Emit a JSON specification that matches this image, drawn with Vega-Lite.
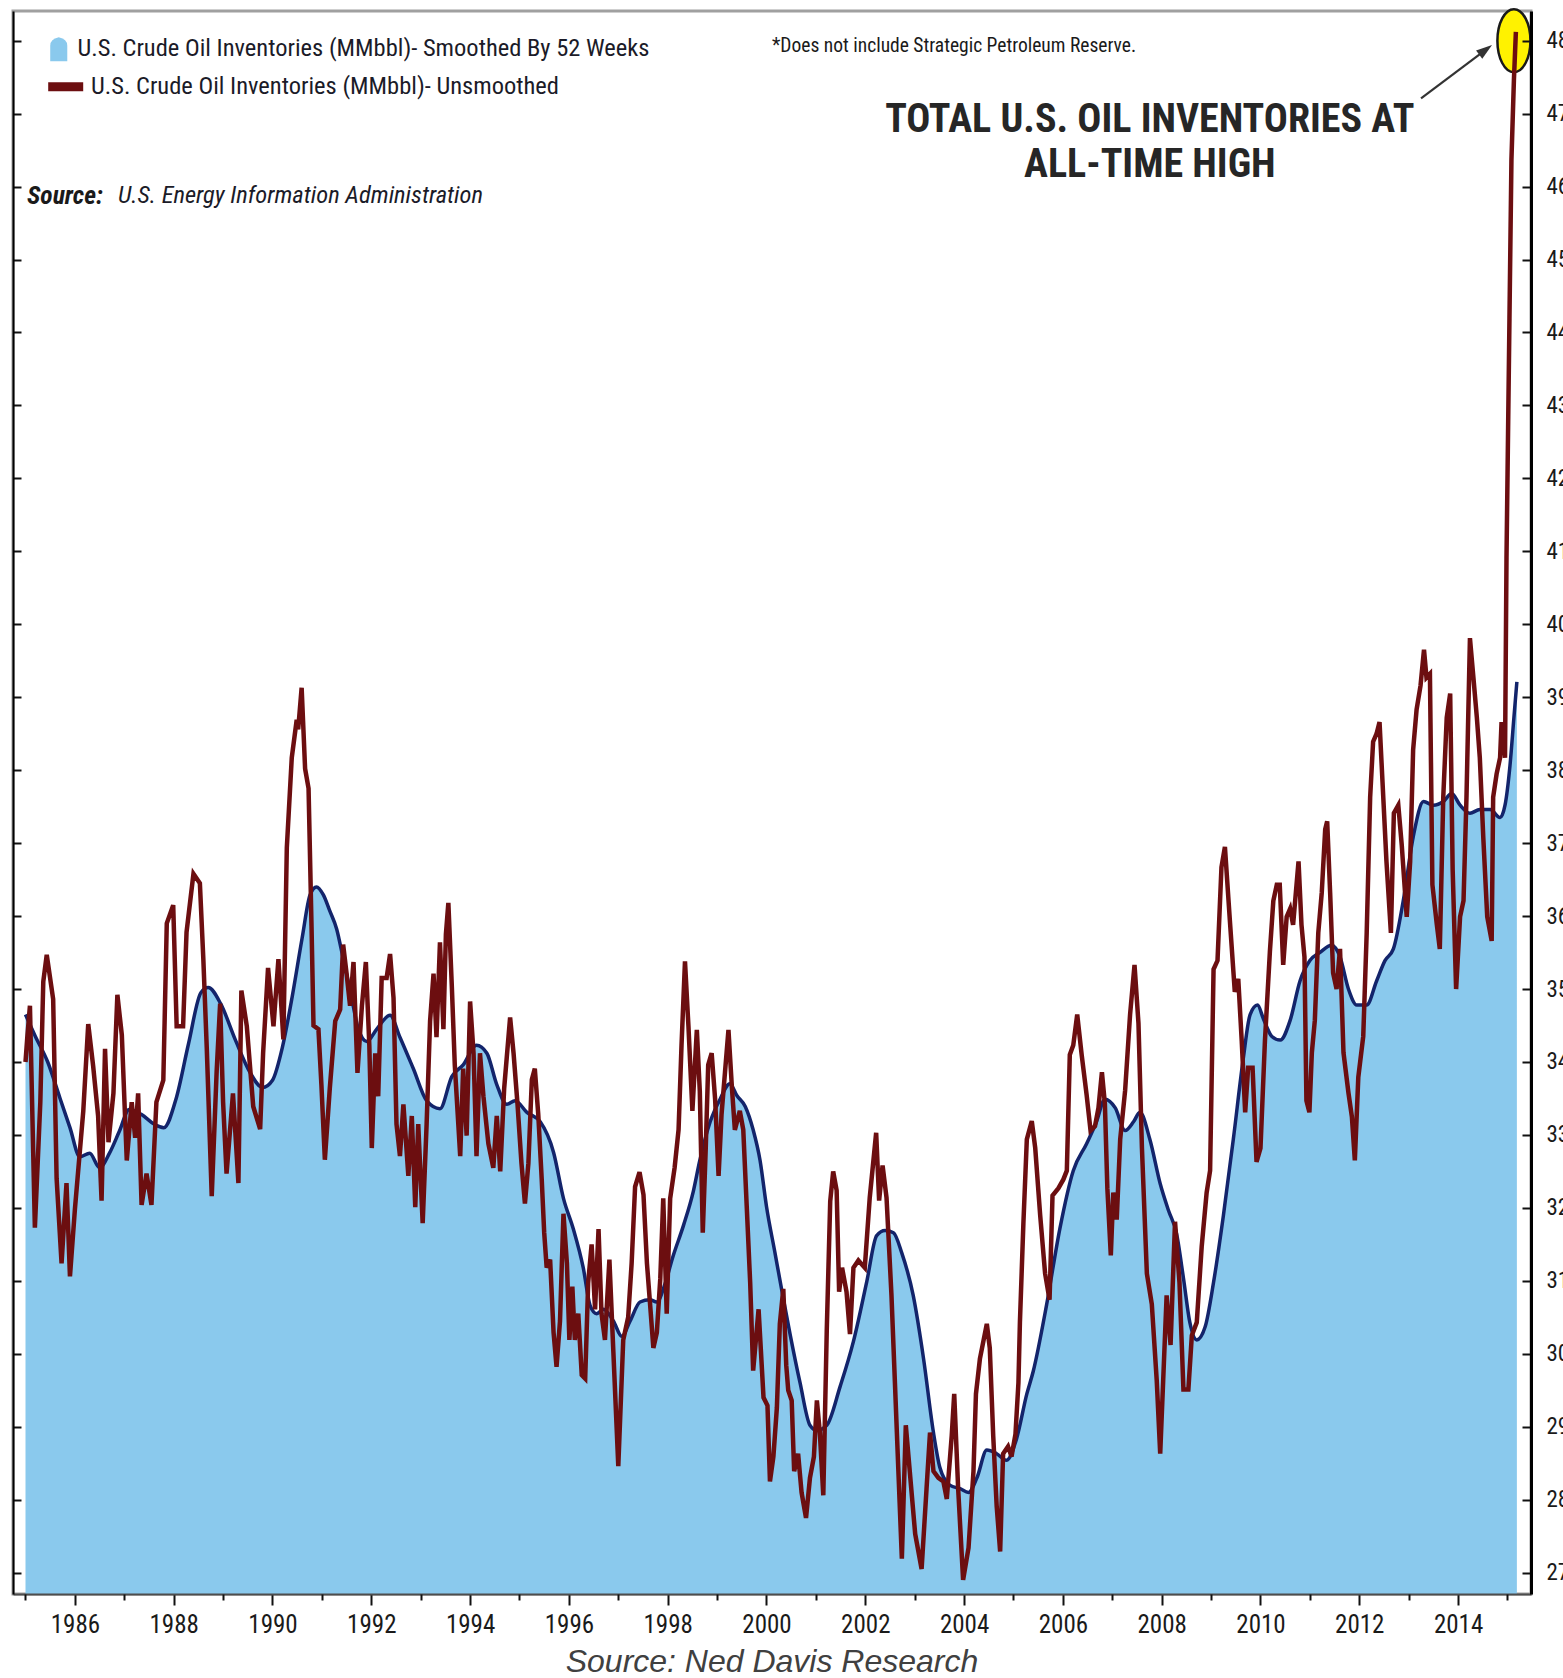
{
  "$schema": "https://vega.github.io/schema/vega-lite/v6.json",
  "width": 1518,
  "height": 1583,
  "autosize": {"type": "none"},
  "padding": {"left": 13, "top": 11, "right": 32, "bottom": 84},
  "background": "white",
  "config": {"view": {"stroke": "#a0a0a0", "strokeWidth": 3}},
  "title": {"text": "Source: Ned Davis Research", "orient": "bottom", "anchor": "middle", "font": "Liberation Sans, Arial, sans-serif", "fontStyle": "italic", "fontWeight": "normal", "fontSize": 32, "color": "#404040", "offset": 10},
  "datasets": {
    "smoothed": [
      {"t":1985.00,"v":346.5},{"t":1985.20,"v":343.5},{"t":1985.45,"v":340.0},{"t":1985.70,"v":335.0},{"t":1985.90,"v":331.0},{"t":1986.10,"v":327.0},{"t":1986.30,"v":327.5},{"t":1986.50,"v":325.5},{"t":1986.70,"v":327.5},{"t":1986.90,"v":330.5},{"t":1987.10,"v":333.5},{"t":1987.35,"v":332.8},{"t":1987.60,"v":331.5},{"t":1987.80,"v":331.0},{"t":1988.05,"v":335.0},{"t":1988.30,"v":342.5},{"t":1988.55,"v":349.5},{"t":1988.70,"v":350.2},{"t":1988.95,"v":348.0},{"t":1989.25,"v":343.0},{"t":1989.55,"v":338.5},{"t":1989.80,"v":336.5},{"t":1990.00,"v":337.5},{"t":1990.20,"v":342.0},{"t":1990.40,"v":349.0},{"t":1990.60,"v":357.0},{"t":1990.76,"v":362.9},{"t":1990.89,"v":364.0},{"t":1991.03,"v":362.9},{"t":1991.16,"v":360.7},{"t":1991.30,"v":358.2},{"t":1991.43,"v":354.2},{"t":1991.57,"v":349.9},{"t":1991.74,"v":344.5},{"t":1991.91,"v":342.8},{"t":1992.11,"v":344.5},{"t":1992.38,"v":346.4},{"t":1992.58,"v":343.4},{"t":1992.85,"v":339.1},{"t":1993.12,"v":334.7},{"t":1993.39,"v":333.6},{"t":1993.63,"v":338.0},{"t":1993.86,"v":339.6},{"t":1994.13,"v":342.3},{"t":1994.34,"v":341.2},{"t":1994.54,"v":336.9},{"t":1994.74,"v":334.2},{"t":1994.91,"v":334.7},{"t":1995.15,"v":333.1},{"t":1995.42,"v":331.8},{"t":1995.69,"v":327.6},{"t":1995.89,"v":321.3},{"t":1996.09,"v":317.1},{"t":1996.29,"v":311.8},{"t":1996.43,"v":306.6},{"t":1996.56,"v":305.5},{"t":1996.70,"v":306.1},{"t":1996.90,"v":304.5},{"t":1997.07,"v":302.4},{"t":1997.24,"v":304.5},{"t":1997.44,"v":307.1},{"t":1997.64,"v":307.4},{"t":1997.78,"v":307.1},{"t":1997.95,"v":309.7},{"t":1998.11,"v":313.4},{"t":1998.32,"v":317.6},{"t":1998.52,"v":322.3},{"t":1998.65,"v":326.5},{"t":1998.86,"v":331.8},{"t":1999.06,"v":334.9},{"t":1999.26,"v":337.0},{"t":1999.40,"v":335.4},{"t":1999.57,"v":333.9},{"t":1999.73,"v":330.7},{"t":1999.87,"v":326.5},{"t":2000.00,"v":320.2},{"t":2000.17,"v":313.9},{"t":2000.31,"v":308.7},{"t":2000.48,"v":302.6},{"t":2000.68,"v":296.0},{"t":2000.88,"v":290.2},{"t":2001.02,"v":289.5},{"t":2001.22,"v":290.2},{"t":2001.49,"v":295.5},{"t":2001.76,"v":301.7},{"t":2002.03,"v":309.9},{"t":2002.23,"v":316.2},{"t":2002.40,"v":316.9},{"t":2002.57,"v":316.6},{"t":2002.74,"v":313.8},{"t":2002.97,"v":308.0},{"t":2003.18,"v":299.3},{"t":2003.38,"v":289.2},{"t":2003.51,"v":284.4},{"t":2003.71,"v":282.0},{"t":2003.92,"v":281.5},{"t":2004.09,"v":281.0},{"t":2004.26,"v":283.0},{"t":2004.46,"v":286.8},{"t":2004.66,"v":286.3},{"t":2004.86,"v":285.4},{"t":2005.06,"v":288.3},{"t":2005.27,"v":294.5},{"t":2005.40,"v":297.6},{"t":2005.67,"v":306.7},{"t":2005.94,"v":317.2},{"t":2006.21,"v":325.1},{"t":2006.48,"v":328.8},{"t":2006.68,"v":331.8},{"t":2006.85,"v":334.9},{"t":2007.06,"v":333.7},{"t":2007.26,"v":330.6},{"t":2007.43,"v":331.8},{"t":2007.56,"v":333.1},{"t":2007.76,"v":329.4},{"t":2007.97,"v":323.3},{"t":2008.14,"v":319.6},{"t":2008.30,"v":316.5},{"t":2008.44,"v":310.4},{"t":2008.57,"v":304.3},{"t":2008.71,"v":301.9},{"t":2008.88,"v":303.7},{"t":2009.05,"v":309.8},{"t":2009.25,"v":319.0},{"t":2009.45,"v":329.4},{"t":2009.65,"v":340.4},{"t":2009.79,"v":346.5},{"t":2009.94,"v":347.8},{"t":2010.06,"v":345.9},{"t":2010.23,"v":343.5},{"t":2010.40,"v":343.0},{"t":2010.60,"v":345.7},{"t":2010.80,"v":351.1},{"t":2011.00,"v":353.9},{"t":2011.20,"v":355.0},{"t":2011.44,"v":356.0},{"t":2011.61,"v":354.4},{"t":2011.78,"v":350.0},{"t":2011.95,"v":347.8},{"t":2012.15,"v":347.8},{"t":2012.35,"v":351.1},{"t":2012.52,"v":353.9},{"t":2012.69,"v":355.5},{"t":2012.89,"v":362.1},{"t":2013.09,"v":370.8},{"t":2013.30,"v":375.7},{"t":2013.50,"v":375.2},{"t":2013.70,"v":375.7},{"t":2013.87,"v":376.8},{"t":2014.04,"v":375.2},{"t":2014.24,"v":374.1},{"t":2014.44,"v":374.6},{"t":2014.65,"v":374.6},{"t":2014.85,"v":373.5},{"t":2014.95,"v":375.2},{"t":2015.05,"v":380.6},{"t":2015.13,"v":387.2},{"t":2015.19,"v":392.1}
    ],
    "raw": [
      {"t":1985.00,"v":340.0},{"t":1985.04,"v":343.7},{"t":1985.09,"v":347.7},{"t":1985.19,"v":317.3},{"t":1985.30,"v":334.5},{"t":1985.36,"v":351.0},{"t":1985.43,"v":354.7},{"t":1985.56,"v":348.6},{"t":1985.63,"v":324.0},{"t":1985.73,"v":312.4},{"t":1985.83,"v":323.4},{"t":1985.90,"v":310.6},{"t":1986.00,"v":319.8},{"t":1986.17,"v":333.3},{"t":1986.27,"v":345.2},{"t":1986.37,"v":339.4},{"t":1986.47,"v":332.6},{"t":1986.54,"v":321.0},{"t":1986.61,"v":341.8},{"t":1986.68,"v":329.0},{"t":1986.78,"v":335.7},{"t":1986.86,"v":349.2},{"t":1986.95,"v":343.7},{"t":1987.05,"v":326.5},{"t":1987.15,"v":334.5},{"t":1987.22,"v":329.6},{"t":1987.28,"v":335.7},{"t":1987.35,"v":320.4},{"t":1987.45,"v":324.7},{"t":1987.55,"v":320.4},{"t":1987.65,"v":334.5},{"t":1987.79,"v":337.5},{"t":1987.86,"v":359.0},{"t":1987.99,"v":361.5},{"t":1988.06,"v":344.9},{"t":1988.19,"v":344.9},{"t":1988.26,"v":357.8},{"t":1988.40,"v":365.8},{"t":1988.53,"v":364.5},{"t":1988.60,"v":354.1},{"t":1988.67,"v":341.8},{"t":1988.77,"v":321.6},{"t":1988.87,"v":338.8},{"t":1988.94,"v":348.0},{"t":1989.00,"v":334.5},{"t":1989.07,"v":324.7},{"t":1989.20,"v":335.7},{"t":1989.31,"v":323.4},{"t":1989.37,"v":349.8},{"t":1989.48,"v":344.9},{"t":1989.61,"v":333.9},{"t":1989.75,"v":330.8},{"t":1989.81,"v":341.2},{"t":1989.91,"v":352.9},{"t":1990.02,"v":344.9},{"t":1990.12,"v":354.1},{"t":1990.22,"v":343.1},{"t":1990.29,"v":369.4},{"t":1990.39,"v":381.7},{"t":1990.49,"v":386.9},{"t":1990.52,"v":385.6},{"t":1990.59,"v":391.3},{"t":1990.66,"v":380.2},{"t":1990.73,"v":377.5},{"t":1990.79,"v":358.6},{"t":1990.83,"v":345.0},{"t":1990.93,"v":344.5},{"t":1990.99,"v":336.9},{"t":1991.06,"v":326.6},{"t":1991.16,"v":336.4},{"t":1991.27,"v":345.6},{"t":1991.37,"v":347.2},{"t":1991.43,"v":356.1},{"t":1991.50,"v":352.1},{"t":1991.57,"v":347.7},{"t":1991.64,"v":353.7},{"t":1991.72,"v":338.5},{"t":1991.81,"v":347.7},{"t":1991.89,"v":353.7},{"t":1991.96,"v":342.3},{"t":1992.01,"v":328.2},{"t":1992.08,"v":341.2},{"t":1992.14,"v":335.3},{"t":1992.21,"v":351.5},{"t":1992.31,"v":351.5},{"t":1992.38,"v":354.8},{"t":1992.45,"v":348.8},{"t":1992.51,"v":331.5},{"t":1992.58,"v":327.1},{"t":1992.65,"v":334.2},{"t":1992.75,"v":324.4},{"t":1992.82,"v":332.6},{"t":1992.89,"v":320.1},{"t":1992.95,"v":331.5},{"t":1993.04,"v":317.9},{"t":1993.12,"v":331.5},{"t":1993.19,"v":345.6},{"t":1993.26,"v":352.1},{"t":1993.32,"v":343.4},{"t":1993.39,"v":356.4},{"t":1993.46,"v":344.5},{"t":1993.51,"v":357.5},{"t":1993.56,"v":361.8},{"t":1993.63,"v":350.4},{"t":1993.69,"v":339.6},{"t":1993.80,"v":327.1},{"t":1993.86,"v":339.1},{"t":1993.93,"v":329.9},{"t":1994.00,"v":348.3},{"t":1994.07,"v":341.2},{"t":1994.13,"v":327.1},{"t":1994.20,"v":341.2},{"t":1994.27,"v":335.3},{"t":1994.37,"v":328.8},{"t":1994.47,"v":325.5},{"t":1994.54,"v":332.6},{"t":1994.61,"v":325.0},{"t":1994.69,"v":336.4},{"t":1994.81,"v":346.1},{"t":1994.88,"v":341.2},{"t":1994.96,"v":334.2},{"t":1995.04,"v":326.1},{"t":1995.11,"v":320.6},{"t":1995.18,"v":326.1},{"t":1995.25,"v":337.6},{"t":1995.31,"v":339.1},{"t":1995.38,"v":332.8},{"t":1995.45,"v":323.9},{"t":1995.50,"v":316.6},{"t":1995.55,"v":311.8},{"t":1995.62,"v":312.9},{"t":1995.69,"v":302.9},{"t":1995.75,"v":298.2},{"t":1995.82,"v":304.5},{"t":1995.89,"v":319.2},{"t":1995.96,"v":312.4},{"t":1996.01,"v":301.9},{"t":1996.07,"v":309.2},{"t":1996.12,"v":301.9},{"t":1996.19,"v":305.5},{"t":1996.26,"v":297.1},{"t":1996.33,"v":296.6},{"t":1996.39,"v":309.7},{"t":1996.46,"v":315.0},{"t":1996.53,"v":306.1},{"t":1996.60,"v":317.1},{"t":1996.66,"v":305.5},{"t":1996.73,"v":301.9},{"t":1996.82,"v":312.9},{"t":1996.90,"v":300.3},{"t":1997.00,"v":284.6},{"t":1997.10,"v":301.9},{"t":1997.20,"v":305.0},{"t":1997.27,"v":312.4},{"t":1997.34,"v":322.9},{"t":1997.43,"v":324.9},{"t":1997.51,"v":321.8},{"t":1997.58,"v":312.4},{"t":1997.64,"v":307.1},{"t":1997.71,"v":300.8},{"t":1997.78,"v":302.9},{"t":1997.85,"v":310.3},{"t":1997.91,"v":321.3},{"t":1997.98,"v":305.5},{"t":1998.05,"v":321.3},{"t":1998.14,"v":325.5},{"t":1998.22,"v":330.7},{"t":1998.28,"v":342.3},{"t":1998.35,"v":353.8},{"t":1998.42,"v":344.9},{"t":1998.50,"v":333.3},{"t":1998.59,"v":344.4},{"t":1998.65,"v":336.0},{"t":1998.71,"v":316.6},{"t":1998.77,"v":328.1},{"t":1998.82,"v":339.6},{"t":1998.89,"v":341.2},{"t":1998.96,"v":334.9},{"t":1999.03,"v":324.4},{"t":1999.09,"v":332.8},{"t":1999.16,"v":338.6},{"t":1999.23,"v":344.4},{"t":1999.30,"v":336.5},{"t":1999.36,"v":330.7},{"t":1999.46,"v":333.3},{"t":1999.53,"v":330.7},{"t":1999.60,"v":320.2},{"t":1999.67,"v":309.7},{"t":1999.73,"v":297.7},{"t":1999.84,"v":306.1},{"t":1999.94,"v":294.0},{"t":2000.02,"v":292.9},{"t":2000.07,"v":282.5},{"t":2000.14,"v":285.9},{"t":2000.21,"v":292.6},{"t":2000.27,"v":304.1},{"t":2000.34,"v":308.9},{"t":2000.40,"v":298.4},{"t":2000.44,"v":295.0},{"t":2000.51,"v":293.6},{"t":2000.56,"v":283.9},{"t":2000.64,"v":286.3},{"t":2000.71,"v":281.0},{"t":2000.80,"v":277.5},{"t":2000.88,"v":283.0},{"t":2000.96,"v":285.9},{"t":2001.02,"v":293.6},{"t":2001.08,"v":289.2},{"t":2001.15,"v":280.6},{"t":2001.22,"v":303.2},{"t":2001.29,"v":320.9},{"t":2001.35,"v":325.0},{"t":2001.42,"v":322.4},{"t":2001.47,"v":308.5},{"t":2001.53,"v":311.8},{"t":2001.62,"v":308.5},{"t":2001.69,"v":302.7},{"t":2001.76,"v":311.8},{"t":2001.86,"v":312.8},{"t":2001.99,"v":311.8},{"t":2002.09,"v":321.4},{"t":2002.22,"v":330.3},{"t":2002.28,"v":321.0},{"t":2002.35,"v":325.8},{"t":2002.43,"v":321.4},{"t":2002.53,"v":308.0},{"t":2002.60,"v":296.0},{"t":2002.67,"v":283.9},{"t":2002.74,"v":271.9},{"t":2002.82,"v":290.2},{"t":2002.90,"v":283.9},{"t":2003.01,"v":275.3},{"t":2003.14,"v":270.5},{"t":2003.24,"v":281.5},{"t":2003.31,"v":289.2},{"t":2003.38,"v":283.9},{"t":2003.48,"v":283.0},{"t":2003.58,"v":282.5},{"t":2003.65,"v":280.1},{"t":2003.75,"v":288.8},{"t":2003.80,"v":294.5},{"t":2003.88,"v":281.5},{"t":2003.98,"v":269.0},{"t":2004.09,"v":273.4},{"t":2004.19,"v":283.9},{"t":2004.24,"v":294.5},{"t":2004.32,"v":299.3},{"t":2004.46,"v":304.1},{"t":2004.52,"v":300.8},{"t":2004.59,"v":288.7},{"t":2004.66,"v":279.1},{"t":2004.73,"v":272.9},{"t":2004.79,"v":286.3},{"t":2004.89,"v":287.3},{"t":2004.96,"v":285.9},{"t":2005.04,"v":289.0},{"t":2005.10,"v":296.0},{"t":2005.13,"v":304.3},{"t":2005.20,"v":317.8},{"t":2005.27,"v":329.4},{"t":2005.37,"v":331.9},{"t":2005.44,"v":328.2},{"t":2005.54,"v":319.0},{"t":2005.64,"v":311.0},{"t":2005.73,"v":307.4},{"t":2005.79,"v":321.7},{"t":2005.91,"v":322.7},{"t":2006.01,"v":323.9},{"t":2006.08,"v":325.1},{"t":2006.14,"v":341.0},{"t":2006.21,"v":342.3},{"t":2006.29,"v":346.5},{"t":2006.38,"v":341.0},{"t":2006.48,"v":335.5},{"t":2006.56,"v":330.6},{"t":2006.65,"v":331.2},{"t":2006.72,"v":333.7},{"t":2006.79,"v":338.6},{"t":2006.85,"v":334.3},{"t":2006.90,"v":322.7},{"t":2006.97,"v":313.5},{"t":2007.02,"v":322.1},{"t":2007.09,"v":318.4},{"t":2007.16,"v":329.4},{"t":2007.26,"v":336.1},{"t":2007.36,"v":346.5},{"t":2007.45,"v":353.3},{"t":2007.53,"v":345.3},{"t":2007.60,"v":328.2},{"t":2007.70,"v":311.0},{"t":2007.80,"v":306.8},{"t":2007.90,"v":296.3},{"t":2007.97,"v":286.3},{"t":2008.03,"v":296.3},{"t":2008.10,"v":308.0},{"t":2008.18,"v":301.2},{"t":2008.27,"v":318.1},{"t":2008.36,"v":309.8},{"t":2008.44,"v":295.1},{"t":2008.54,"v":295.1},{"t":2008.61,"v":302.5},{"t":2008.71,"v":304.3},{"t":2008.81,"v":314.7},{"t":2008.91,"v":322.1},{"t":2008.98,"v":325.1},{"t":2009.05,"v":352.7},{"t":2009.13,"v":353.9},{"t":2009.21,"v":366.7},{"t":2009.28,"v":369.5},{"t":2009.38,"v":359.4},{"t":2009.48,"v":349.6},{"t":2009.55,"v":351.4},{"t":2009.62,"v":342.9},{"t":2009.69,"v":333.1},{"t":2009.75,"v":339.2},{"t":2009.84,"v":339.2},{"t":2009.92,"v":326.3},{"t":2010.00,"v":328.2},{"t":2010.09,"v":342.9},{"t":2010.19,"v":355.1},{"t":2010.26,"v":362.1},{"t":2010.33,"v":364.3},{"t":2010.39,"v":364.3},{"t":2010.46,"v":353.3},{"t":2010.53,"v":359.9},{"t":2010.60,"v":361.0},{"t":2010.66,"v":358.8},{"t":2010.77,"v":367.5},{"t":2010.83,"v":358.8},{"t":2010.89,"v":354.4},{"t":2010.93,"v":334.7},{"t":2010.99,"v":333.1},{"t":2011.04,"v":341.3},{"t":2011.10,"v":345.7},{"t":2011.17,"v":357.7},{"t":2011.24,"v":363.2},{"t":2011.31,"v":371.9},{"t":2011.35,"v":373.0},{"t":2011.41,"v":363.2},{"t":2011.47,"v":352.2},{"t":2011.54,"v":350.0},{"t":2011.61,"v":355.5},{"t":2011.68,"v":341.3},{"t":2011.78,"v":335.8},{"t":2011.85,"v":332.5},{"t":2011.91,"v":326.5},{"t":2011.98,"v":337.9},{"t":2012.08,"v":343.5},{"t":2012.15,"v":357.7},{"t":2012.22,"v":376.3},{"t":2012.28,"v":383.9},{"t":2012.35,"v":385.0},{"t":2012.41,"v":386.6},{"t":2012.47,"v":378.4},{"t":2012.55,"v":367.5},{"t":2012.64,"v":357.7},{"t":2012.70,"v":374.1},{"t":2012.79,"v":375.2},{"t":2012.86,"v":369.7},{"t":2012.96,"v":359.9},{"t":2013.03,"v":367.5},{"t":2013.09,"v":382.8},{"t":2013.16,"v":388.3},{"t":2013.24,"v":391.6},{"t":2013.31,"v":396.5},{"t":2013.36,"v":392.7},{"t":2013.43,"v":393.2},{"t":2013.48,"v":364.3},{"t":2013.57,"v":358.8},{"t":2013.63,"v":355.5},{"t":2013.70,"v":376.3},{"t":2013.77,"v":387.2},{"t":2013.84,"v":390.5},{"t":2013.89,"v":366.4},{"t":2013.96,"v":350.0},{"t":2014.04,"v":359.9},{"t":2014.11,"v":362.1},{"t":2014.17,"v":376.3},{"t":2014.24,"v":398.1},{"t":2014.31,"v":392.7},{"t":2014.38,"v":387.2},{"t":2014.44,"v":381.7},{"t":2014.51,"v":370.8},{"t":2014.59,"v":359.9},{"t":2014.68,"v":356.6},{"t":2014.71,"v":376.3},{"t":2014.78,"v":379.5},{"t":2014.85,"v":381.7},{"t":2014.88,"v":386.6},{"t":2014.95,"v":381.7},{"t":2014.98,"v":409.1},{"t":2015.04,"v":441.9},{"t":2015.08,"v":463.7},{"t":2015.13,"v":474.6},{"t":2015.17,"v":481.2}
    ]
  },
  "layer": [
    {
      "data": {"name": "smoothed"},
      "mark": {"type": "area", "interpolate": "monotone", "opacity": 1},
      "encoding": {
        "x": {"field": "t", "type": "quantitative", "scale": {"domain": [1984.747, 2015.476], "nice": false, "zero": false},
              "axis": {"orient": "bottom", "values": [1986,1988,1990,1992,1994,1996,1998,2000,2002,2004,2006,2008,2010,2012,2014], "format": "d", "title": null, "grid": false, "tickSize": 11, "tickWidth": 2, "tickColor": "#111111", "domainColor": "#4d4d4d", "domainWidth": 2, "labelFont": "Roboto Condensed, DejaVu Sans Condensed, Roboto, sans-serif", "labelFontSize": 25, "labelColor": "#1a1a1a", "labelPadding": 7, "labelFlush": false, "labelOverlap": false, "zindex": 2}},
        "y": {"field": "v", "type": "quantitative", "scale": {"domain": [267.07, 484.07], "nice": false, "zero": false},
              "axis": {"orient": "right", "values": [270,280,290,300,310,320,330,340,350,360,370,380,390,400,410,420,430,440,450,460,470,480], "title": null, "grid": false, "tickSize": -9, "tickWidth": 2, "tickColor": "#111111", "domainColor": "#000000", "domainWidth": 3, "labelFont": "Roboto Condensed, DejaVu Sans Condensed, Roboto, sans-serif", "labelFontSize": 23, "labelColor": "#1a1a1a", "labelPadding": 24, "labelFlush": false, "labelOverlap": false, "labelAlign": "left", "zindex": 2}},
        "y2": {"datum": 267.07},
        "fill": {"datum": "U.S. Crude Oil Inventories (MMbbl)- Smoothed By 52 Weeks",
                 "scale": {"domain": ["U.S. Crude Oil Inventories (MMbbl)- Smoothed By 52 Weeks"], "range": ["#8AC9ED"]},
                 "legend": {"orient": "none", "legendX": 33.5, "legendY": 26, "title": null, "padding": 0, "symbolType": "M-0.71,1 L-0.71,-0.3 Q-0.71,-0.85 0,-1 Q0.71,-0.85 0.71,-0.3 L0.71,1 Z", "symbolSize": 576, "symbolStrokeWidth": 0, "symbolFillColor": "#8AC9ED", "labelFont": "Roboto Condensed, DejaVu Sans Condensed, Roboto, sans-serif", "labelFontSize": 24.5, "labelColor": "#1b1b28", "labelOffset": 6.5, "labelLimit": 1000}}
      }
    },
    {
      "data": {"name": "smoothed"},
      "mark": {"type": "line", "interpolate": "monotone", "color": "#13246B", "strokeWidth": 3.5},
      "encoding": {
        "x": {"field": "t", "type": "quantitative", "scale": {"domain": [1984.747, 2015.476], "nice": false, "zero": false},
              "axis": {"orient": "bottom", "values": [1985,1987,1989,1991,1993,1995,1997,1999,2001,2003,2005,2007,2009,2011,2013,2015], "labels": false, "domain": false, "title": null, "grid": false, "tickSize": 6, "tickWidth": 2, "tickColor": "#111111", "zindex": 2}},
        "y": {"field": "v", "type": "quantitative", "scale": {"domain": [267.07, 484.07], "nice": false, "zero": false},
              "axis": {"orient": "left", "values": [270,280,290,300,310,320,330,340,350,360,370,380,390,400,410,420,430,440,450,460,470,480], "labels": false, "title": null, "grid": false, "tickSize": -8, "tickWidth": 2, "tickColor": "#111111", "domainColor": "#000000", "domainWidth": 2, "zindex": 2}}
      }
    },
    {
      "data": {"values": [{}]},
      "mark": {"type": "point", "shape": "M0.524,0 C0.524,0.5523 0.2894,1 0,1 C-0.2894,1 -0.524,0.5523 -0.524,0 C-0.524,-0.5523 -0.2894,-1 0,-1 C0.2894,-1 0.524,-0.5523 0.524,0 Z", "size": 3969, "filled": true, "fill": "#FFF200", "stroke": "#1a1a1a", "strokeWidth": 2.5, "opacity": 1},
      "encoding": {
        "x": {"datum": 2015.13, "type": "quantitative", "scale": {"domain": [1984.747, 2015.476], "nice": false, "zero": false}, "axis": null},
        "y": {"datum": 480, "type": "quantitative", "scale": {"domain": [267.07, 484.07], "nice": false, "zero": false}, "axis": null}
      }
    },
    {
      "data": {"name": "raw"},
      "mark": {"type": "line", "strokeWidth": 4.5},
      "encoding": {
        "x": {"field": "t", "type": "quantitative", "scale": {"domain": [1984.747, 2015.476], "nice": false, "zero": false}, "axis": null},
        "y": {"field": "v", "type": "quantitative", "scale": {"domain": [267.07, 484.07], "nice": false, "zero": false}, "axis": null},
        "stroke": {"datum": "U.S. Crude Oil Inventories (MMbbl)- Unsmoothed",
                   "scale": {"domain": ["U.S. Crude Oil Inventories (MMbbl)- Unsmoothed"], "range": ["#6C0E10"]},
                   "legend": {"orient": "none", "legendX": 30.7, "legendY": 53.8, "title": null, "padding": 0, "symbolType": "stroke", "symbolSize": 1225, "symbolStrokeWidth": 9, "symbolStrokeColor": "#6C0E10", "labelFont": "Roboto Condensed, DejaVu Sans Condensed, Roboto, sans-serif", "labelFontSize": 24.5, "labelColor": "#1b1b28", "labelOffset": 3.3, "labelLimit": 1000}}
      }
    },
    {
      "data": {"values": [{}]},
      "mark": {"type": "rule", "color": "#333333", "strokeWidth": 2.2},
      "encoding": {
        "x": {"datum": 2013.25, "type": "quantitative", "scale": {"domain": [1984.747, 2015.476], "nice": false, "zero": false}, "axis": null},
        "y": {"datum": 472.1, "type": "quantitative", "scale": {"domain": [267.07, 484.07], "nice": false, "zero": false}, "axis": null},
        "x2": {"datum": 2014.557},
        "y2": {"datum": 478.75}
      }
    },
    {
      "data": {"values": [{}]},
      "mark": {"type": "point", "shape": "M1,0 L-1,-0.65 L-1,0.65 Z", "size": 256, "filled": true, "fill": "#333333", "strokeWidth": 0, "angle": 323.3, "opacity": 1},
      "encoding": {
        "x": {"datum": 2014.557, "type": "quantitative", "scale": {"domain": [1984.747, 2015.476], "nice": false, "zero": false}, "axis": null},
        "y": {"datum": 478.75, "type": "quantitative", "scale": {"domain": [267.07, 484.07], "nice": false, "zero": false}, "axis": null}
      }
    },
    {
      "data": {"values": [{}]},
      "mark": {"type": "text", "align": "left", "baseline": "middle", "font": "Roboto Condensed, DejaVu Sans Condensed, Roboto, sans-serif", "fontSize": 19.5, "color": "#1a1a1a", "text": "*Does not include Strategic Petroleum Reserve."},
      "encoding": {
        "x": {"datum": 2000.11, "type": "quantitative", "scale": {"domain": [1984.747, 2015.476], "nice": false, "zero": false}, "axis": null},
        "y": {"datum": 479.27, "type": "quantitative", "scale": {"domain": [267.07, 484.07], "nice": false, "zero": false}, "axis": null}
      }
    },
    {
      "data": {"values": [{}]},
      "mark": {"type": "text", "align": "left", "baseline": "middle", "font": "Roboto Condensed, DejaVu Sans Condensed, Roboto, sans-serif", "fontSize": 25.5, "fontWeight": "bold", "fontStyle": "italic", "color": "#1a1a1a", "text": "Source:"},
      "encoding": {
        "x": {"datum": 1985.03, "type": "quantitative", "scale": {"domain": [1984.747, 2015.476], "nice": false, "zero": false}, "axis": null},
        "y": {"datum": 458.71, "type": "quantitative", "scale": {"domain": [267.07, 484.07], "nice": false, "zero": false}, "axis": null}
      }
    },
    {
      "data": {"values": [{}]},
      "mark": {"type": "text", "align": "left", "baseline": "middle", "font": "Roboto Condensed, DejaVu Sans Condensed, Roboto, sans-serif", "fontSize": 24.5, "fontStyle": "italic", "color": "#1b1b28", "text": "U.S. Energy Information Administration"},
      "encoding": {
        "x": {"datum": 1986.87, "type": "quantitative", "scale": {"domain": [1984.747, 2015.476], "nice": false, "zero": false}, "axis": null},
        "y": {"datum": 458.71, "type": "quantitative", "scale": {"domain": [267.07, 484.07], "nice": false, "zero": false}, "axis": null}
      }
    },
    {
      "data": {"values": [{}]},
      "mark": {"type": "text", "align": "center", "baseline": "middle", "font": "Roboto Condensed, DejaVu Sans Condensed, Roboto, sans-serif", "fontSize": 40, "fontWeight": "bold", "color": "#262626", "lineHeight": 45, "text": ["TOTAL U.S. OIL INVENTORIES AT", "ALL-TIME HIGH"]},
      "encoding": {
        "x": {"datum": 2007.76, "type": "quantitative", "scale": {"domain": [1984.747, 2015.476], "nice": false, "zero": false}, "axis": null},
        "y": {"datum": 469.1, "type": "quantitative", "scale": {"domain": [267.07, 484.07], "nice": false, "zero": false}, "axis": null}
      }
    }
  ],
  "resolve": {"axis": {"x": "independent", "y": "independent"}}
}
